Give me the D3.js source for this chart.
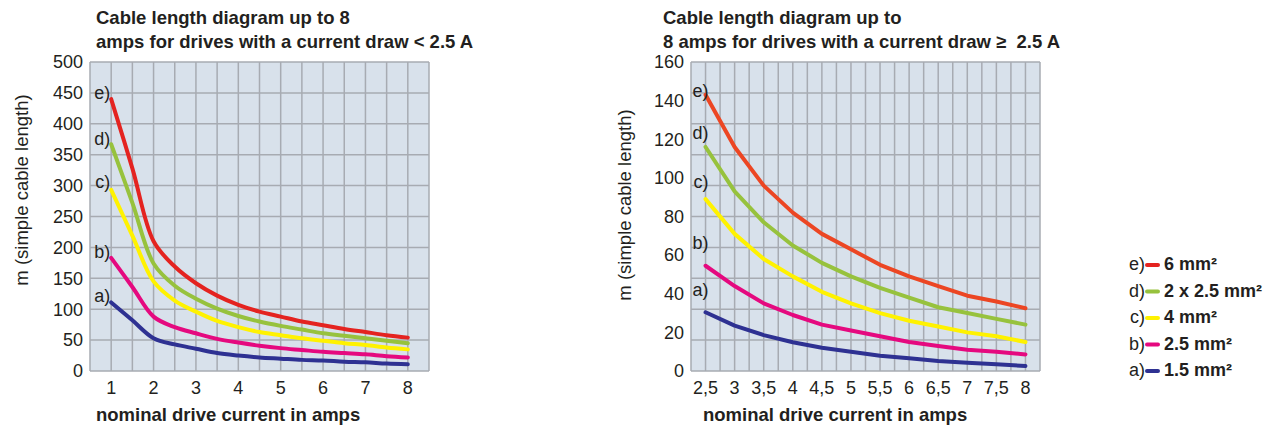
<!DOCTYPE html>
<html>
<head>
<meta charset="utf-8">
<script src="https://cdn.jsdelivr.net/npm/d3@7"></script>
<style>
  body { margin: 0; background: #fff; }
  svg { display: block; font-family: "Liberation Sans", Arial, sans-serif; }
  text { fill: #231f20; }
</style>
</head>
<body>
<svg id="chart" width="1273" height="428"></svg>
<script>
// series order: a) 1.5, b) 2.5, c) 4, d) 2x2.5, e) 6 mm²
const seriesKeys = ['a)', 'b)', 'c)', 'd)', 'e)']
const legendLabels = ['1.5 mm²', '2.5 mm²', '4 mm²', '2 x 2.5 mm²', '6 mm²']

// left: drives < 2.5 A
const leftX = [1, 1.5, 2, 2.5, 3, 3.5, 4, 4.5, 5, 5.5, 6, 6.5, 7, 7.5, 8]
const leftA = [111, 82, 53, 43, 36, 29, 25, 22, 20, 18, 17, 15, 14, 12, 11]
const leftB = [183, 136, 88, 71, 61, 52, 46, 41, 37, 34, 31, 29, 27, 24, 22]
const leftC = [293, 219, 145, 114, 96, 81, 71, 63, 58, 53, 49, 45, 42, 38, 35]
const leftD = [367, 272, 174, 138, 117, 101, 89, 80, 73, 67, 61, 57, 53, 49, 45]
const leftE = [440, 328, 210, 169, 142, 122, 107, 96, 88, 80, 74, 68, 63, 58, 54]
const leftXTicks = [1, 2, 3, 4, 5, 6, 7, 8]
const leftXTickLabels = ['1', '2', '3', '4', '5', '6', '7', '8']
const leftYTicks = [0, 50, 100, 150, 200, 250, 300, 350, 400, 450, 500]
const leftLabelAt = [111, 183, 296, 365, 440]

// right: drives >= 2.5 A
const rightX = [2.5, 3, 3.5, 4, 4.5, 5, 5.5, 6, 6.5, 7, 7.5, 8]
const rightA = [30.4, 23.5, 18.6, 14.9, 12, 10, 7.9, 6.6, 5.2, 4.3, 3.5, 2.6]
const rightB = [54.5, 44, 35, 29, 24, 21, 18, 15, 13, 11, 10, 8.6]
const rightC = [89, 71, 58, 49, 41, 35, 30, 26, 23, 20, 18, 15]
const rightD = [116, 93, 77, 65, 56, 49, 43, 38, 33, 30, 27, 24]
const rightE = [143, 116, 96, 82, 71, 63, 55, 49, 44, 39, 36, 32.5]
const rightXTicks = [2.5, 3, 3.5, 4, 4.5, 5, 5.5, 6, 6.5, 7, 7.5, 8]
const rightXTickLabels = ['2,5', '3', '3,5', '4', '4,5', '5', '5,5', '6', '6,5', '7', '7,5', '8']
const rightYTicks = [0, 20, 40, 60, 80, 100, 120, 140, 160]
const rightLabelAt = [39, 63, 95, 120, 142]

const leftColors = ['#2e3192', '#e5097f', '#fff200', '#97c23d', '#e42320']
const rightColors = ['#2e3192', '#e5097f', '#fff200', '#97c23d', '#ec4623']

const svg = d3.select('#chart')

function drawChart(opt) {
  const g = svg.append('g')
  const x = d3.scaleLinear().domain(opt.xDomain).range([opt.left, opt.left + opt.width])
  const y = d3.scaleLinear().domain(opt.yDomain).range([opt.top + opt.height, opt.top])

  // plot background
  g.append('rect')
    .attr('x', opt.left)
    .attr('y', opt.top)
    .attr('width', opt.width)
    .attr('height', opt.height)
    .style('fill', '#d8e1eb')

  // grid
  g.selectAll('.vgrid')
    .data(d3.range(opt.xDomain[0], opt.xDomain[1] + 1e-6, opt.xGrid))
    .enter()
    .append('line')
    .attr('x1', d => x(d))
    .attr('x2', d => x(d))
    .attr('y1', opt.top)
    .attr('y2', opt.top + opt.height)
    .style('stroke', '#a7abb2')
    .style('stroke-width', 1.5)

  g.selectAll('.hgrid')
    .data(d3.range(opt.yDomain[0], opt.yDomain[1] + 1e-6, opt.yGrid))
    .enter()
    .append('line')
    .attr('x1', opt.left)
    .attr('x2', opt.left + opt.width)
    .attr('y1', d => y(d))
    .attr('y2', d => y(d))
    .style('stroke', '#a7abb2')
    .style('stroke-width', 1.5)

  // tick labels
  g.selectAll('.ytick')
    .data(opt.yTicks)
    .enter()
    .append('text')
    .attr('x', opt.left - 7)
    .attr('y', d => y(d))
    .attr('dy', '0.35em')
    .style('text-anchor', 'end')
    .style('font-size', '18px')
    .text(d => d)

  g.selectAll('.xtick')
    .data(opt.xTicks)
    .enter()
    .append('text')
    .attr('x', d => x(d))
    .attr('y', 394)
    .style('text-anchor', 'middle')
    .style('font-size', '18px')
    .text((d, i) => opt.xTickLabels[i])

  // curves
  const line = d3.line()
    .x(d => x(d[0]))
    .y(d => y(d[1]))
    .curve(opt.curve)

  opt.series.forEach((vals, i) => {
    g.append('path')
      .datum(opt.xs.map((v, j) => [v, vals[j]]))
      .attr('d', line)
      .style('fill', 'none')
      .style('stroke', opt.colors[i])
      .style('stroke-width', 4)
      .style('stroke-linecap', 'round')
      .style('stroke-linejoin', 'round')
  })

  // curve labels a) .. e)
  g.selectAll('.clabel')
    .data(seriesKeys)
    .enter()
    .append('text')
    .attr('x', x(opt.xs[0]) + opt.labelDx)
    .attr('y', (d, i) => y(opt.labelAt[i]))
    .style('text-anchor', 'end')
    .style('font-size', '18px')
    .text(d => d)

  // titles
  const title = g.append('text')
    .attr('x', opt.titleX)
    .style('font-size', '18.5px')
    .style('font-weight', 'bold')
    .style('white-space', 'pre')
  title.append('tspan').attr('x', opt.titleX).attr('y', 23.5).text(opt.title[0])
  title.append('tspan').attr('x', opt.titleX).attr('y', 47.5).text(opt.title[1])

  g.append('text')
    .attr('x', opt.xTitleX)
    .attr('y', 421)
    .style('font-size', '18.5px')
    .style('font-weight', 'bold')
    .text('nominal drive current in amps')

  g.append('text')
    .attr('transform', `translate(${opt.yTitleX},${opt.yTitleY}) rotate(-90)`)
    .style('text-anchor', 'middle')
    .style('font-size', '18.5px')
    .text('m (simple cable length)')
}

drawChart({
  left: 90, top: 62, width: 339, height: 309,
  xDomain: [0.5, 8.5], yDomain: [0, 500], xGrid: 0.5, yGrid: 50,
  xs: leftX, series: [leftA, leftB, leftC, leftD, leftE], colors: leftColors,
  xTicks: leftXTicks, xTickLabels: leftXTickLabels, yTicks: leftYTicks,
  labelAt: leftLabelAt, labelDx: -1,
  curve: d3.curveCatmullRom.alpha(0.5),
  title: ['Cable length diagram up to 8', 'amps for drives with a current draw < 2.5 A'],
  titleX: 96, xTitleX: 96, yTitleX: 28, yTitleY: 190,
})

drawChart({
  left: 691, top: 62, width: 349, height: 309,
  xDomain: [2.25, 8.25], yDomain: [0, 160], xGrid: 0.25, yGrid: 16,
  xs: rightX, series: [rightA, rightB, rightC, rightD, rightE], colors: rightColors,
  xTicks: rightXTicks, xTickLabels: rightXTickLabels, yTicks: rightYTicks,
  labelAt: rightLabelAt, labelDx: 3,
  curve: d3.curveLinear,
  title: ['Cable length diagram up to', '8 amps for drives with a current draw \u2265  2.5 A'],
  titleX: 663, xTitleX: 703, yTitleX: 631, yTitleY: 205,
})

// legend, top row is e)
const legend = svg.append('g')
const legendRows = d3.range(seriesKeys.length).reverse()
const rowY = d3.scaleLinear().domain([0, 4]).range([264, 370])

legendRows.forEach((k, r) => {
  const cy = rowY(r)
  legend.append('text')
    .attr('x', 1145)
    .attr('y', cy + 6)
    .style('text-anchor', 'end')
    .style('font-size', '18px')
    .text(seriesKeys[k])
  legend.append('line')
    .attr('x1', 1147)
    .attr('x2', 1158)
    .attr('y1', cy + 1)
    .attr('y2', cy + 1)
    .style('stroke', leftColors[k])
    .style('stroke-width', 4)
    .style('stroke-linecap', 'round')
  legend.append('text')
    .attr('x', 1164)
    .attr('y', cy + 6)
    .style('font-size', '18px')
    .style('font-weight', 'bold')
    .text(legendLabels[k])
})
</script>
</body>
</html>
